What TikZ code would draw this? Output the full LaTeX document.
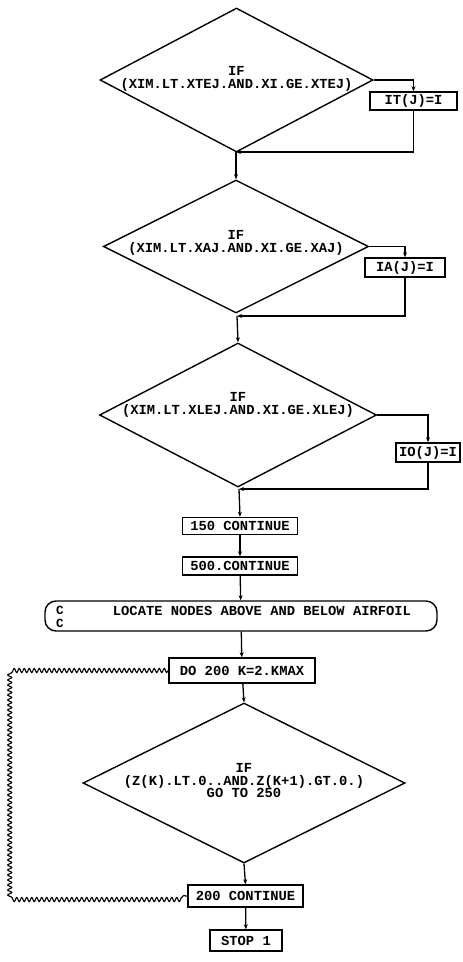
\documentclass[tikz,border=0pt]{standalone}
\usepackage{fontspec}
\setmonofont{Liberation Mono}
\usetikzlibrary{shapes.geometric,arrows.meta,decorations.pathmorphing}
\begin{document}
\begin{tikzpicture}[x=1pt,y=-1pt,
  every node/.style={font=\ttfamily\bfseries\fontsize{13.8}{12.5}\selectfont},
  dia/.style={draw,diamond,inner sep=0pt,line width=1.4pt},
  dtext/.style={align=center,inner sep=0pt},
  box/.style={draw,rectangle,inner sep=1pt,line width=1.4pt},
  arr/.style={line width=1.3pt,-{Stealth[length=5pt,width=4pt]}},
  wavy/.style={line width=1.1pt,decorate,decoration={snake,amplitude=2pt,segment length=5pt}}]
\useasboundingbox (0,0) rectangle (463,962);

% first decision
\node[dia,minimum width=273pt,minimum height=144pt] (d1) at (236.5,80) {};
\node[dtext] (t1) at (236.5,79) {IF\\(XIM.LT.XTEJ.AND.XI.GE.XTEJ)};
\node[box,minimum width=87pt,minimum height=18pt] (b1) at (413.5,101) {IT(J)=I};
\coordinate (j1) at (236,152);
\draw[arr] (d1.east) -| (b1.north);
\draw[arr] (b1.south) |- (j1);

% second decision
\node[dia,minimum width=265pt,minimum height=133pt] (d2) at (236,246.5) {};
\node[dtext] (t2) at (236,243) {IF\\(XIM.LT.XAJ.AND.XI.GE.XAJ)};
\node[box,minimum width=80pt,minimum height=19pt] (b2) at (405,267.5) {IA(J)=I};
\coordinate (j2) at (237,316);
\draw[arr] (j1) -- (d2.north);
\draw[arr] (d2.east) -| (b2.north);
\draw[arr] (b2.south) |- (j2);

% third decision
\node[dia,minimum width=277pt,minimum height=144pt] (d3) at (238,415) {};
\node[dtext] (t3) at (238,405) {IF\\(XIM.LT.XLEJ.AND.XI.GE.XLEJ)};
\node[box,minimum width=64pt,minimum height=19pt] (b3) at (428,452.5) {IO(J)=I};
\coordinate (j3) at (239,489);
\draw[arr] (j2) -- (d3.north);
\draw[arr] (d3.east) -| (b3.north);
\draw[arr] (b3.south) |- (j3);

% sequence
\node[box,minimum width=115pt,minimum height=17pt] (c150) at (240,526) {150 CONTINUE};
\node[box,minimum width=115pt,minimum height=18pt] (c500) at (240,566) {500.CONTINUE};
\node[draw,rectangle,rounded corners=11pt,line width=1.4pt,minimum width=392pt,minimum height=30pt] (loc) at (241,616) {};
\node (loctxt) at (262,611) {LOCATE NODES ABOVE AND BELOW AIRFOIL};
\node[inner sep=0pt,align=left,font=\ttfamily\bfseries\fontsize{12.5}{12.5}\selectfont] (cc) at (60,617) {C\\C};
\node[box,minimum width=146pt,minimum height=25pt] (do) at (242,670.5) {DO 200 K=2.KMAX};
\draw[arr] (j3) -- (c150.north);
\draw[arr] (c150) -- (c500);
\draw[arr] (c500) -- (loc);
\draw[arr] (loc) -- (do);

% fourth decision
\node[dia,minimum width=322pt,minimum height=160pt] (d4) at (244,783) {};
\node[dtext] (t4) at (244,781) {IF\\(Z(K).LT.0..AND.Z(K+1).GT.0.)\\GO TO 250};
\node[box,minimum width=115pt,minimum height=22pt] (c200) at (245.5,896) {200 CONTINUE};
\node[box,minimum width=72pt,minimum height=21pt] (stop) at (246,940.5) {STOP 1};
\draw[arr] (do) -- (d4.north);
\draw[arr] (d4.south) -- (c200.north);
\draw[arr] (c200) -- (stop);

% loop back
\coordinate (w1) at (13,670.5);
\coordinate (w2) at (13,896);
\draw[wavy] (do.west) -- (w1) -- (w2) -- (c200.west);
\end{tikzpicture}
\end{document}
